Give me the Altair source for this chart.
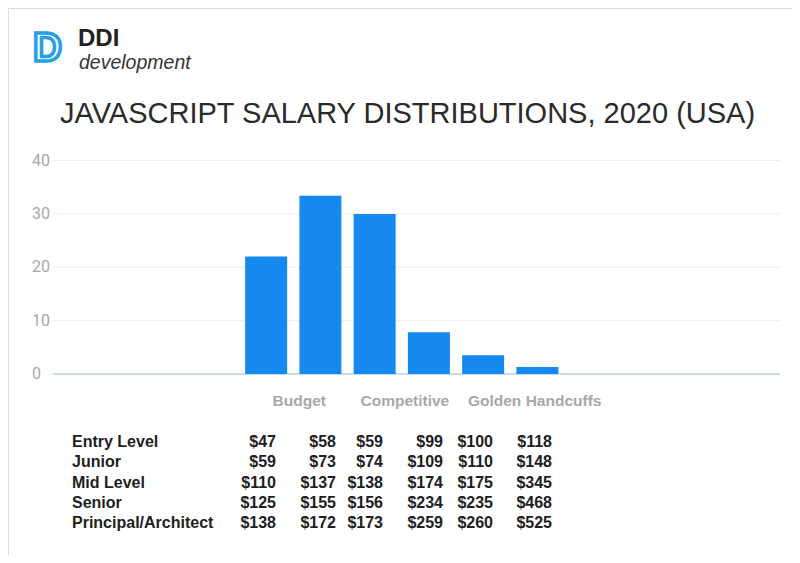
import altair as alt
import pandas as pd

# ---- data ----
bin_index = [0, 1, 2, 3, 4, 5]
counts = [22, 33.4, 30, 7.8, 3.5, 1.3]
grid_values = [10, 20, 30, 40]
tick_values = [0, 10, 20, 30, 40]
band_labels = ["Budget", "Competitive", "Golden Handcuffs"]
band_label_pos = [0.64, 2.56, 4.92]
levels = ["Entry Level", "Junior", "Mid Level", "Senior", "Principal/Architect"]
col1 = ["$47", "$59", "$110", "$125", "$138"]
col2 = ["$58", "$73", "$137", "$155", "$172"]
col3 = ["$59", "$74", "$138", "$156", "$173"]
col4 = ["$99", "$109", "$174", "$234", "$259"]
col5 = ["$100", "$110", "$175", "$235", "$260"]
col6 = ["$118", "$148", "$345", "$468", "$525"]
title_text = "JAVASCRIPT SALARY DISTRIBUTIONS, 2020 (USA)"

W, H = 784, 547
BLUE = "#1589ee"

xscale = alt.Scale(domain=[-3.8, 9.38], range=[47, 772], nice=False, zero=False)
yscale = alt.Scale(domain=[0, 40], range=[366, 152.5], nice=False, zero=True)

bars_df = pd.DataFrame({"bin": bin_index, "count": counts})
bars = alt.Chart(bars_df).mark_bar(color=BLUE, size=42).encode(
    x=alt.X("bin:Q", scale=xscale, axis=None),
    y=alt.Y("count:Q", scale=yscale, axis=None),
)

grid = alt.Chart(pd.DataFrame({"v": grid_values})).mark_rule(
    color="#eeeeee", strokeWidth=1
).encode(
    y=alt.Y("v:Q", scale=yscale, axis=None),
    x=alt.value(47), x2=alt.value(772),
)

base = alt.Chart(pd.DataFrame({"v": [0]})).mark_rule(
    color="#c8dcea", strokeWidth=2
).encode(
    y=alt.Y("v:Q", scale=yscale, axis=None),
    x=alt.value(45), x2=alt.value(772),
)

ylabels = alt.Chart(pd.DataFrame({"v": tick_values})).mark_text(
    align="left", baseline="middle", font="Roboto", fontSize=16, color="#a8a8a8"
).encode(
    y=alt.Y("v:Q", scale=yscale, axis=None),
    x=alt.value(24),
    text=alt.Text("v:Q"),
)

cat_df = pd.DataFrame({"label": band_labels, "pos": band_label_pos})
cats = alt.Chart(cat_df).mark_text(
    align="center", baseline="middle", font="Liberation Sans", fontSize=15.5,
    fontWeight="bold", color="#a8a8a8"
).encode(
    x=alt.X("pos:Q", scale=xscale, axis=None),
    y=alt.value(393),
    text="label:N",
)

rowscale = alt.Scale(domain=levels, range=[433.7, 515.3], padding=0)
table_df = pd.DataFrame({"level": levels, "c1": col1, "c2": col2, "c3": col3,
                         "c4": col4, "c5": col5, "c6": col6})
tstyle = dict(baseline="middle", font="Liberation Sans", fontSize=16,
              fontWeight="bold", color="#1e1e1e")
row_labels = alt.Chart(table_df).mark_text(align="left", **tstyle).encode(
    x=alt.value(64),
    y=alt.Y("level:N", scale=rowscale, axis=None),
    text="level:N",
)
col_right = {"c1": 268, "c2": 328, "c3": 375, "c4": 435, "c5": 485, "c6": 544}
col_layers = [
    alt.Chart(table_df).mark_text(align="right", **tstyle).encode(
        x=alt.value(px),
        y=alt.Y("level:N", scale=rowscale, axis=None),
        text=f"{c}:N",
    )
    for c, px in col_right.items()
]

title = alt.Chart(pd.DataFrame({"t": [title_text]})).mark_text(
    align="center", baseline="alphabetic", font="Liberation Sans", fontSize=29,
    color="#2a2a2a"
).encode(x=alt.value(399.5), y=alt.value(115), text="t:N")

logo_icon = alt.Chart(pd.DataFrame({"t": ["D"]})).mark_text(
    align="left", baseline="alphabetic", font="Liberation Sans", fontSize=40,
    fontWeight="bold", fill="transparent", stroke="#27a0e8", strokeWidth=3.5
).encode(x=alt.value(25), y=alt.value(53), text="t:N")

logo_ddi = alt.Chart(pd.DataFrame({"t": ["DDI"]})).mark_text(
    align="left", baseline="alphabetic", font="Liberation Sans", fontSize=24,
    fontWeight="bold", color="#222222"
).encode(x=alt.value(70), y=alt.value(38), text="t:N")

logo_dev = alt.Chart(pd.DataFrame({"t": ["development"]})).mark_text(
    align="left", baseline="alphabetic", font="Liberation Sans", fontSize=19.5,
    fontStyle="italic", color="#333333"
).encode(x=alt.value(71), y=alt.value(61), text="t:N")

chart = alt.layer(
    grid, base, bars, ylabels, cats, row_labels, *col_layers,
    title, logo_icon, logo_ddi, logo_dev
).resolve_scale(y="independent", x="independent").properties(
    width=W, height=H, padding=0,
    autosize=alt.AutoSizeParams(type="fit", contains="padding"),
).configure_view(stroke=None, strokeWidth=0).configure(background="white")

chart.save("out.html", embed_options={"renderer": "svg", "actions": False})
